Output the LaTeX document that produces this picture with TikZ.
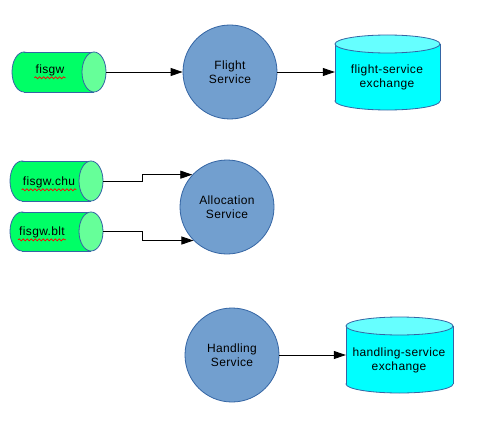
\documentclass[tikz,border=0pt]{standalone}
\usepackage{fontspec}
\setmainfont{Liberation Sans}[LetterSpace=3]
\usetikzlibrary{arrows.meta,decorations.pathmorphing}
\definecolor{greenbody}{HTML}{00FF66}
\definecolor{greencap}{HTML}{66FF99}
\definecolor{cyanbody}{HTML}{00FFFF}
\definecolor{cyancap}{HTML}{66FFFF}
\definecolor{svcfill}{HTML}{729FCF}
\definecolor{svcline}{HTML}{3465A4}
\newcommand{\hcylinder}[4]{%
  \pgfmathsetmacro{\cyA}{#1+12}\pgfmathsetmacro{\cyB}{#2-12}%
  \pgfmathsetmacro{\cyM}{(#3+#4)/2}\pgfmathsetmacro{\cyR}{(#4-#3)/2}%
  \filldraw[cylline,fill=greenbody] (\cyA,\cyM) ellipse [x radius=12, y radius=\cyR];
  \fill[greenbody] (\cyA,#3) rectangle (\cyB,#4);
  \draw[cylline] (\cyA,#3) -- (\cyB,#3) (\cyA,#4) -- (\cyB,#4);
  \filldraw[cylline,fill=greencap] (\cyB,\cyM) ellipse [x radius=12, y radius=\cyR];
}
\newcommand{\vcylinder}[4]{%
  \pgfmathsetmacro{\cyA}{#3+9}\pgfmathsetmacro{\cyB}{#4-9}%
  \pgfmathsetmacro{\cyM}{(#1+#2)/2}\pgfmathsetmacro{\cyR}{(#2-#1)/2}%
  \filldraw[cylline,fill=cyanbody] (\cyM,\cyB) ellipse [x radius=\cyR, y radius=9];
  \fill[cyanbody] (#1,\cyA) rectangle (#2,\cyB);
  \draw[cylline] (#1,\cyA) -- (#1,\cyB) (#2,\cyA) -- (#2,\cyB);
  \filldraw[cylline,fill=cyancap] (\cyM,\cyA) ellipse [x radius=\cyR, y radius=9];
}
\begin{document}
\begin{tikzpicture}[x=1pt,y=-1pt,
  cylline/.style={draw=svcline,line width=0.8pt},
  service/.style={circle,draw=svcline,line width=0.8pt,fill=svcfill,minimum size=94pt,inner sep=0pt,align=center,font=\fontsize{12}{14}\selectfont},
  anchorbox/.style={rectangle,draw=none,inner sep=0pt},
  lbl/.style={align=center,inner sep=1pt,font=\fontsize{12}{14}\selectfont},
  conn/.style={draw=black,line width=0.8pt,-{Triangle[length=12pt,width=8pt]}},
  spell/.style={draw=red,line width=0.7pt,decorate,decoration={snake,amplitude=1pt,segment length=4pt}}]
\useasboundingbox[fill=white] (0,0) rectangle (497,425);

% input queues
\hcylinder{12}{106}{52}{92}
\node[anchorbox,minimum width=94pt,minimum height=40pt] (fisgw) at (59,72) {};
\node[lbl] (fisgwtxt) at (50,70) {fisgw};

\hcylinder{10}{103}{161}{201}
\node[anchorbox,minimum width=93pt,minimum height=40pt] (chu) at (56.5,181) {};
\node[lbl] (chutxt) at (49,182) {fisgw.chu};

\hcylinder{10}{103}{212}{251}
\node[anchorbox,minimum width=93pt,minimum height=39pt] (blt) at (56.5,231.5) {};
\node[lbl] (blttxt) at (42,232) {fisgw.blt};

\draw[spell] ([yshift=-1pt]fisgwtxt.south west) -- ([yshift=-1pt]fisgwtxt.south east);
\draw[spell] ([yshift=-1pt]chutxt.south west) -- ([yshift=-1pt]chutxt.south east);
\draw[spell] ([yshift=-1pt]blttxt.south west) -- ([yshift=-1pt]blttxt.south east);

% services
\node[service] (flight) at (230,72) {Flight\\Service};
\node[service] (alloc) at (227,207) {Allocation\\Service};
\node[service] (handling) at (232,355) {Handling\\Service};

% exchanges
\vcylinder{335}{440}{35}{110}
\node[anchorbox,minimum width=105pt,minimum height=75pt] (fexch) at (387.5,72) {};
\node[lbl] (fexchtxt) at (387,77) {flight-service\\exchange};

\vcylinder{346}{453}{317}{393}
\node[anchorbox,minimum width=107pt,minimum height=76pt] (hexch) at (399.5,355) {};
\node[lbl] (hexchtxt) at (399,360) {handling-service\\exchange};

% connectors
\draw[conn] (fisgw.east) -- (flight);
\draw[conn] (flight.east) -- (fexch.west);
\draw[conn] (chu.east) -- ++(39,0) |- (alloc.137);
\draw[conn] (blt.east) -- ++(39,0) |- (alloc.225);
\draw[conn] (handling.east) -- (hexch.west);
\end{tikzpicture}
\end{document}
